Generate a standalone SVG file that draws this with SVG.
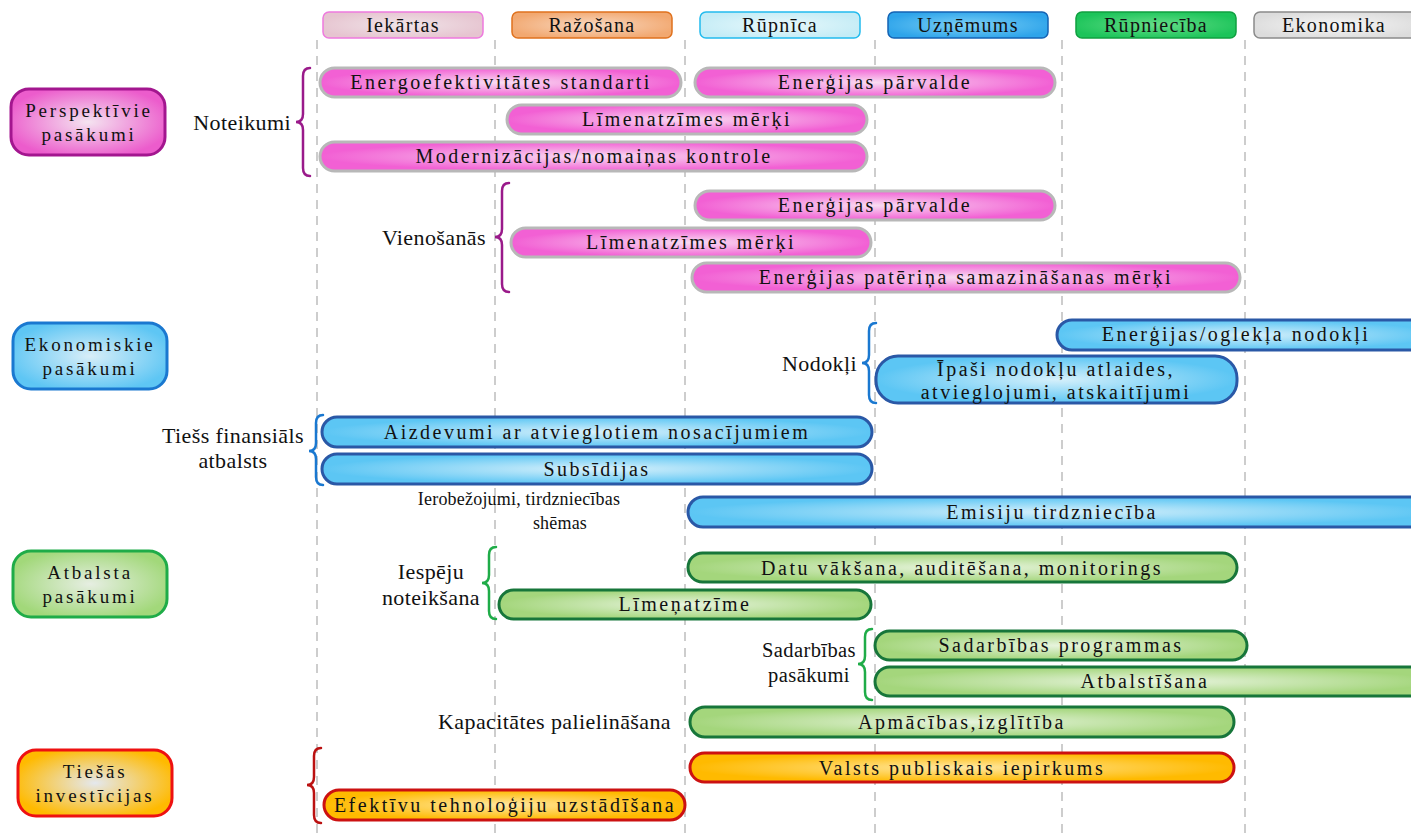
<svg xmlns="http://www.w3.org/2000/svg" width="1411" height="836" viewBox="0 0 1411 836">
<defs>
<radialGradient id="gPink" cx="50%" cy="50%" r="50%"><stop offset="0" stop-color="#f9dcf2"/><stop offset="1" stop-color="#f260d4"/></radialGradient>
<radialGradient id="gBlue" cx="50%" cy="50%" r="50%"><stop offset="0" stop-color="#d6f0fb"/><stop offset="1" stop-color="#5cc6f4"/></radialGradient>
<radialGradient id="gGreen" cx="50%" cy="50%" r="50%"><stop offset="0" stop-color="#e8f4de"/><stop offset="1" stop-color="#a4d67c"/></radialGradient>
<radialGradient id="gOrange" cx="50%" cy="50%" r="50%"><stop offset="0" stop-color="#ffe7a0"/><stop offset="1" stop-color="#ffba00"/></radialGradient>
<radialGradient id="gCatPink" cx="50%" cy="50%" r="55%"><stop offset="0" stop-color="#f4e4f0"/><stop offset="1" stop-color="#ec5ccc"/></radialGradient>
<radialGradient id="gCatBlue" cx="50%" cy="50%" r="55%"><stop offset="0" stop-color="#d8eef8"/><stop offset="1" stop-color="#5ec6f4"/></radialGradient>
<radialGradient id="gCatGreen" cx="50%" cy="50%" r="55%"><stop offset="0" stop-color="#e6eee2"/><stop offset="1" stop-color="#a2d87a"/></radialGradient>
<radialGradient id="gCatOrange" cx="50%" cy="50%" r="55%"><stop offset="0" stop-color="#e4e8ee"/><stop offset="1" stop-color="#ffba00"/></radialGradient>
<radialGradient id="hPink" cx="50%" cy="50%" r="55%"><stop offset="0" stop-color="#f0e4e8"/><stop offset="1" stop-color="#e6c4d0"/></radialGradient>
<radialGradient id="hOrange" cx="50%" cy="50%" r="55%"><stop offset="0" stop-color="#f8d8c0"/><stop offset="1" stop-color="#f2a870"/></radialGradient>
<radialGradient id="hCyan" cx="50%" cy="50%" r="55%"><stop offset="0" stop-color="#e8f8fb"/><stop offset="1" stop-color="#c4ecf6"/></radialGradient>
<radialGradient id="hBlue" cx="50%" cy="50%" r="55%"><stop offset="0" stop-color="#7cd0f6"/><stop offset="1" stop-color="#2ea4ea"/></radialGradient>
<radialGradient id="hGreen" cx="50%" cy="50%" r="55%"><stop offset="0" stop-color="#66dd88"/><stop offset="1" stop-color="#1cc45a"/></radialGradient>
<radialGradient id="hGrey" cx="50%" cy="50%" r="55%"><stop offset="0" stop-color="#f6f6f6"/><stop offset="1" stop-color="#dcdcdc"/></radialGradient>
</defs>
<style>
text{font-family:"Liberation Serif","Times New Roman",serif;font-size:22px;fill:#111;letter-spacing:0.4px;}
.bt{font-size:20px;letter-spacing:2.5px;text-anchor:middle;}
.ht{font-size:20px;text-anchor:middle;letter-spacing:1.3px;}
.ct{font-size:19px;text-anchor:middle;letter-spacing:2.8px;}
.lt{text-anchor:end;}
.mt{text-anchor:middle;}
.sm{font-size:18px;letter-spacing:0.2px;}
.md{font-size:20.5px;}
.grid line{stroke:#bdbdbd;stroke-width:1.5;stroke-dasharray:9 7;}
.pink rect{fill:url(#gPink);stroke:#b8b8b8;stroke-width:3;}
.blue rect{fill:url(#gBlue);stroke:#2a58a6;stroke-width:3;}
.green rect{fill:url(#gGreen);stroke:#17763a;stroke-width:3;}
.orange rect{fill:url(#gOrange);stroke:#cc1111;stroke-width:3;}
.brace{fill:none;stroke-width:2.5;stroke-linecap:round;}
.hdr rect{stroke-width:1.5;}
</style>
<rect width="1411" height="836" fill="#ffffff"/>
<g class="grid">
<line x1="317" y1="40" x2="317" y2="836"/>
<line x1="495" y1="40" x2="495" y2="836"/>
<line x1="685" y1="40" x2="685" y2="836"/>
<line x1="875" y1="40" x2="875" y2="836"/>
<line x1="1062" y1="40" x2="1062" y2="836"/>
<line x1="1245" y1="40" x2="1245" y2="836"/>
</g>
<g id="headers" class="hdr">
<g id="h-iekartas"><rect x="323" y="12" width="160" height="26" rx="6" fill="url(#hPink)" stroke="#ee7ade"/><text class="ht" x="403" y="32">Iekārtas</text></g>
<g id="h-razosana"><rect x="512" y="12" width="160" height="26" rx="6" fill="url(#hOrange)" stroke="#e0721e"/><text class="ht" x="592" y="32">Ražošana</text></g>
<g id="h-rupnica"><rect x="700" y="12" width="160" height="26" rx="6" fill="url(#hCyan)" stroke="#22bbee"/><text class="ht" x="780" y="32">Rūpnīca</text></g>
<g id="h-uznemums"><rect x="888" y="12" width="160" height="26" rx="6" fill="url(#hBlue)" stroke="#1463b4"/><text class="ht" x="968" y="32">Uzņēmums</text></g>
<g id="h-rupnieciba"><rect x="1076" y="12" width="160" height="26" rx="6" fill="url(#hGreen)" stroke="#10a040"/><text class="ht" x="1156" y="32">Rūpniecība</text></g>
<g id="h-ekonomika"><rect x="1254" y="12" width="165" height="26" rx="6" fill="url(#hGrey)" stroke="#8a8a8a"/><text class="ht" x="1334" y="32">Ekonomika</text></g>
</g>
<g id="categories">
<g id="c-perspektivie"><rect x="11" y="89" width="154" height="66" rx="18" fill="url(#gCatPink)" stroke="#a3168f" stroke-width="3"/><text class="ct" x="89" y="117">Perspektīvie</text><text class="ct" x="89" y="141">pasākumi</text></g>
<g id="c-ekonomiskie"><rect x="13" y="323" width="154" height="66" rx="18" fill="url(#gCatBlue)" stroke="#1a78d0" stroke-width="3"/><text class="ct" x="90" y="351">Ekonomiskie</text><text class="ct" x="90" y="375">pasākumi</text></g>
<g id="c-atbalsta"><rect x="13" y="551" width="154" height="66" rx="18" fill="url(#gCatGreen)" stroke="#1fac48" stroke-width="3"/><text class="ct" x="90" y="579">Atbalsta</text><text class="ct" x="90" y="603">pasākumi</text></g>
<g id="c-tiesas"><rect x="18" y="750" width="154" height="66" rx="18" fill="url(#gCatOrange)" stroke="#ee1111" stroke-width="3"/><text class="ct" x="95" y="778">Tiešās</text><text class="ct" x="95" y="802">investīcijas</text></g>
</g>
<g id="connectors">
<path class="brace" stroke="#9a1a8a" d="M310 68 Q303 68 303 76 L303 114 Q303 122 296 122 Q303 122 303 130 L303 168 Q303 176 310 176"/>
<path class="brace" stroke="#9a1a8a" d="M509 183 Q502 183 502 191 L502 229 Q502 237 495 237 Q502 237 502 245 L502 284 Q502 292 509 292"/>
<path class="brace" stroke="#1a78d0" d="M876 323 Q869 323 869 331 L869 355 Q869 363 862 363 Q869 363 869 371 L869 395 Q869 403 876 403"/>
<path class="brace" stroke="#1a78d0" d="M323 415 Q316 415 316 423 L316 443 Q316 451 309 451 Q316 451 316 459 L316 477 Q316 485 323 485"/>
<path class="brace" stroke="#1fac48" d="M496 547 Q489 547 489 555 L489 575 Q489 583 482 583 Q489 583 489 591 L489 611 Q489 619 496 619"/>
<path class="brace" stroke="#1fac48" d="M872 629 Q865 629 865 637 L865 656 Q865 664 858 664 Q865 664 865 672 L865 692 Q865 700 872 700"/>
<path class="brace" stroke="#bb1111" d="M321 748 Q314 748 314 756 L314 777 Q314 785 307 785 Q314 785 314 793 L314 815 Q314 823 321 823"/>
</g>
<g id="labels">
<text class="lt" x="291" y="130">Noteikumi</text>
<text class="lt" x="486" y="245">Vienošanās</text>
<text class="lt" x="857" y="371">Nodokļi</text>
<text class="mt" x="233" y="443">Tiešs finansiāls</text>
<text class="mt" x="233" y="468">atbalsts</text>
<text class="mt sm" x="519" y="505">Ierobežojumi, tirdzniecības</text>
<text class="mt sm" x="560" y="529">shēmas</text>
<text class="mt" x="431" y="579">Iespēju</text>
<text class="mt" x="431" y="605">noteikšana</text>
<text class="mt md" x="809" y="657">Sadarbības</text>
<text class="mt md" x="809" y="682">pasākumi</text>
<text class="lt" x="671" y="729">Kapacitātes palielināšana</text>
</g>
<g id="bars">
<g id="b1" class="pink"><rect x="320" y="68" width="361" height="29" rx="14.5"/><text class="bt" x="501" y="89">Energoefektivitātes standarti</text></g>
<g id="b2" class="pink"><rect x="695" y="68" width="360" height="29" rx="14.5"/><text class="bt" x="875" y="89">Enerģijas pārvalde</text></g>
<g id="b3" class="pink"><rect x="507" y="105" width="360" height="29" rx="14.5"/><text class="bt" x="687" y="126">Līmenatzīmes mērķi</text></g>
<g id="b4" class="pink"><rect x="320" y="142" width="547" height="29" rx="14.5"/><text class="bt" x="594" y="163">Modernizācijas/nomaiņas kontrole</text></g>
<g id="b5" class="pink"><rect x="695" y="191" width="360" height="29" rx="14.5"/><text class="bt" x="875" y="212">Enerģijas pārvalde</text></g>
<g id="b6" class="pink"><rect x="511" y="228" width="360" height="29" rx="14.5"/><text class="bt" x="691" y="249">Līmenatzīmes mērķi</text></g>
<g id="b7" class="pink"><rect x="692" y="263" width="548" height="29" rx="14.5"/><text class="bt" x="966" y="284">Enerģijas patēriņa samazināšanas mērķi</text></g>
<g id="b8" class="blue"><rect x="1057" y="320" width="380" height="30" rx="15"/><text class="bt" x="1236" y="341">Enerģijas/oglekļa nodokļi</text></g>
<g id="b9" class="blue"><rect x="876" y="356" width="361" height="47" rx="22"/><text class="bt" x="1056" y="376">Īpaši nodokļu atlaides,</text><text class="bt" x="1056" y="399">atvieglojumi, atskaitījumi</text></g>
<g id="b10" class="blue"><rect x="322" y="417" width="550" height="30" rx="15"/><text class="bt" x="597" y="439">Aizdevumi ar atvieglotiem nosacījumiem</text></g>
<g id="b11" class="blue"><rect x="322" y="454" width="550" height="30" rx="15"/><text class="bt" x="597" y="476">Subsīdijas</text></g>
<g id="b12" class="blue"><rect x="688" y="497" width="750" height="30" rx="15"/><text class="bt" x="1052" y="519">Emisiju tirdzniecība</text></g>
<g id="b13" class="green"><rect x="688" y="553" width="549" height="29" rx="14.5"/><text class="bt" x="962" y="575">Datu vākšana, auditēšana, monitorings</text></g>
<g id="b14" class="green"><rect x="499" y="590" width="372" height="29" rx="14.5"/><text class="bt" x="685" y="611">Līmeņatzīme</text></g>
<g id="b15" class="green"><rect x="875" y="631" width="372" height="29" rx="14.5"/><text class="bt" x="1061" y="652">Sadarbības programmas</text></g>
<g id="b16" class="green"><rect x="875" y="667" width="560" height="29" rx="14.5"/><text class="bt" x="1145" y="688">Atbalstīšana</text></g>
<g id="b17" class="green"><rect x="690" y="707" width="544" height="30" rx="15"/><text class="bt" x="962" y="729">Apmācības,izglītība</text></g>
<g id="b18" class="orange"><rect x="690" y="753" width="544" height="29" rx="14.5"/><text class="bt" x="962" y="775">Valsts publiskais iepirkums</text></g>
<g id="b19" class="orange"><rect x="324" y="790" width="361" height="30" rx="15"/><text class="bt" x="505" y="812">Efektīvu tehnoloģiju uzstādīšana</text></g>
</g>
</svg>
